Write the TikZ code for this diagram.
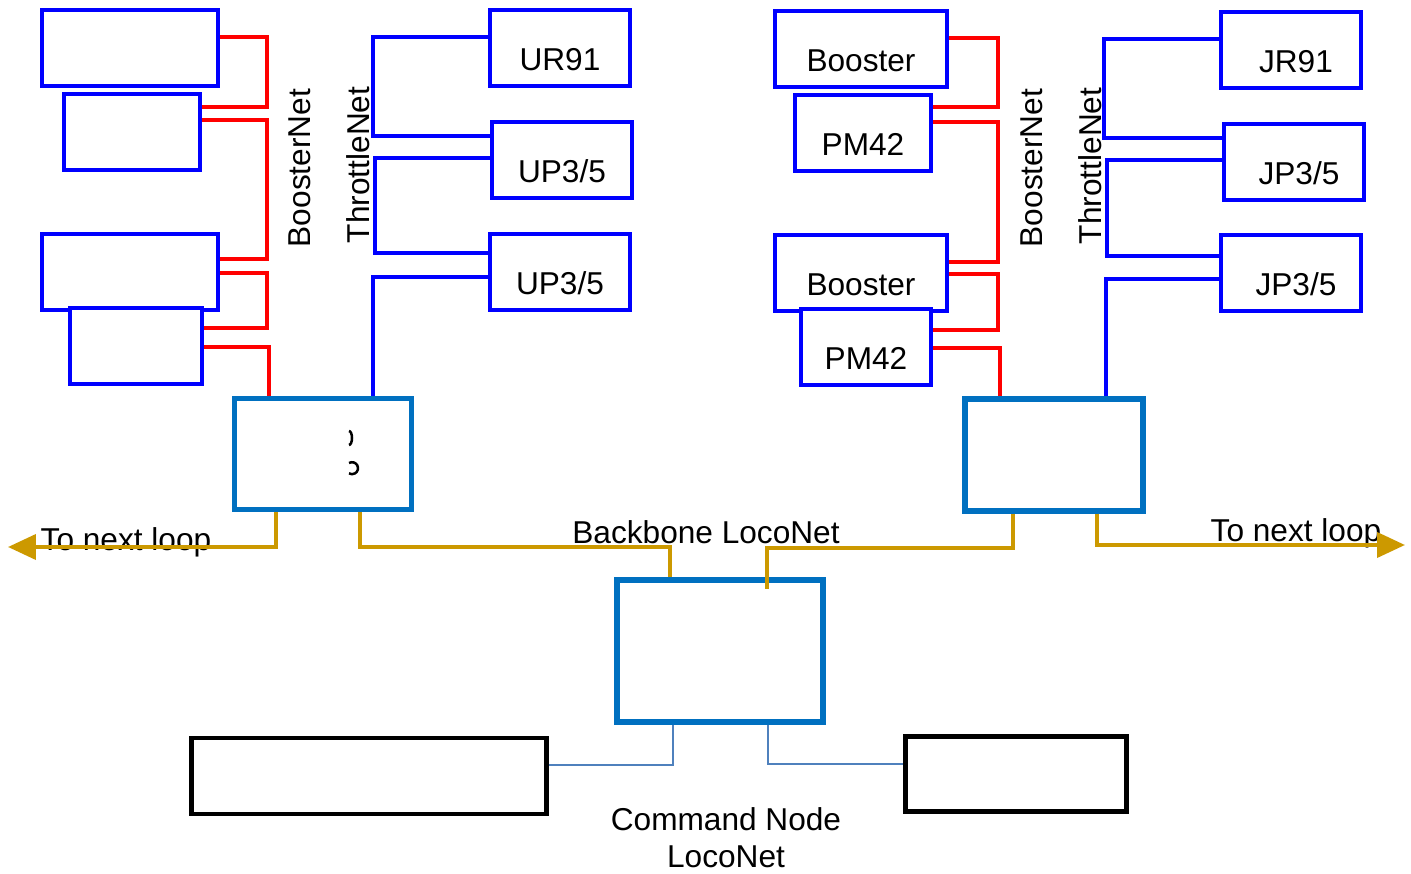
\documentclass[tikz,border=0pt]{standalone}
\usepackage{fontspec}
\setmainfont{Liberation Sans}
\usetikzlibrary{arrows.meta}

\definecolor{netblue}{RGB}{0,0,255}
\definecolor{hubblue}{RGB}{0,112,192}
\definecolor{locogold}{RGB}{204,153,0}
\definecolor{cmdblue}{RGB}{79,129,189}

\begin{document}
\begin{tikzpicture}[x=0.02cm,y=-0.02cm,
			>={Triangle[length=0.56cm,width=0.5cm]},
			every node/.style={
				font=\fontsize{18}{21}\selectfont
			},
			dev/.style={draw=netblue,line width=0.08cm,fill=white,inner sep=0pt,
				minimum height=1.52cm,text height=0.9cm,text depth=0cm},
			hub/.style={draw=hubblue,line width=0.11cm,fill=white,inner sep=0pt},
			cmd/.style={draw=black,line width=0.09cm,inner sep=0pt},
			bnet/.style={draw=red,line width=0.08cm},
			tnet/.style={draw=netblue,line width=0.08cm},
			loco/.style={draw=locogold,line width=0.08cm},
			cmdnet/.style={draw=cmdblue,line width=0.04cm}]
			
			\useasboundingbox (0,0) rectangle (1411,874);
			
			\node(lb1)[dev,minimum width=3.52cm] at (130,48){};
			
			\node(lp1)[dev,minimum width=2.72cm] at (132,132){};
			
			\node(lb2)[dev,minimum width=3.52cm] at (130,272){};
			
			\node(lp2)[dev,minimum width=2.64cm] at (136,346){};
			
			\node(ur91)[dev,minimum width=2.82cm] at (560,48){UR91};
			
			\node(up1)[dev,minimum width=2.82cm] at (562,160){UP3/5};
			
			\node(up2)[dev,minimum width=2.82cm] at (560,272){UP3/5};
			
			\node(rb1)[dev,minimum width=3.46cm] at (861,49){Booster};
			
			\node(rp1)[dev,minimum width=2.72cm] at (863,133){PM42};
			
			\node(rb2)[dev,minimum width=3.46cm] at (861,273){Booster};
			
			\node(rp2)[dev,minimum width=2.62cm] at (866,347){PM42};
			
			\node(jr91)[dev,minimum width=2.82cm] at (1291,50){\hspace{0.2cm}JR91};
			
			\node(jp1)[dev,minimum width=2.82cm] at (1294,162){\hspace{0.2cm}JP3/5};
			
			\node(jp2)[dev,minimum width=2.82cm] at (1291,273){\hspace{0.2cm}JP3/5};
			
			\node(lhub)[hub,minimum width=3.54cm,minimum height=2.22cm] at (323,454){};
			
			\node(rhub)[hub,minimum width=3.56cm,minimum height=2.24cm] at (1054,455){};
			
			\node(cmdhub)[hub,minimum width=4.12cm,minimum height=2.84cm] at (720,651){};
			
			\node(cs)[cmd,minimum width=7.1cm,minimum height=1.52cm] at (369,776){};
			
			\node(pc)[cmd,minimum width=4.42cm,minimum height=1.5cm] at (1016,774){};
			
			\node(bnl)[rotate=90] at (300,168){BoosterNet};
			
			\node(tnl)[rotate=90] at (358,165){ThrottleNet};
			
			\node(bnr)[rotate=90] at (1032,168){BoosterNet};
			
			\node(tnr)[rotate=90] at (1090,166){ThrottleNet};
			
			\node(bb) at (706,532){Backbone LocoNet};
			
			\node(nxl) at (126,542){To next loop};
			
			\node(nxr) at (1296,533){To next loop};
			
			\node(cmdl)[align=center] at (726,838){Command Node\\LocoNet};
			
			\coordinate(wend) at (8,547);
			
			\coordinate(eend) at (1405,545);
			
			\draw[line width=0.05cm](349,431) arc[start angle=90,end angle=-90,x radius=0.06cm,y radius=0.14cm];
			
			\draw[line width=0.05cm](349,463) arc[start angle=120,end angle=-120,radius=0.12cm];
			
			\draw[bnet](lb1.east |- 0,37) -| (267,107) -- (lp1.east |- 0,107);
			
			\draw[bnet](lp1.east |- 0,120) -| (267,259) -- (lb2.east |- 0,259);
			
			\draw[bnet](lb2.east |- 0,273) -| (267,328) -- (lp2.east |- 0,328);
			
			\draw[bnet](lp2.east |- 0,347) -| (269,0 |- lhub.north);
			
			\draw[tnet](ur91.west |- 0,37) -| (373,136) -- (up1.west |- 0,136);
			
			\draw[tnet](up1.west |- 0,158) -| (375,253) -- (up2.west |- 0,253);
			
			\draw[tnet](up2.west |- 0,277) -| (373,0 |- lhub.north);
			
			\draw[bnet](rb1.east |- 0,38) -| (998,107) -- (rp1.east |- 0,107);
			
			\draw[bnet](rp1.east |- 0,122) -| (998,262) -- (rb2.east |- 0,262);
			
			\draw[bnet](rb2.east |- 0,274) -| (998,330) -- (rp2.east |- 0,330);
			
			\draw[bnet](rp2.east |- 0,348) -| (1000,0 |- rhub.north);
			
			\draw[tnet](jr91.west |- 0,39) -| (1104,138) -- (jp1.west |- 0,138);
			
			\draw[tnet](jp1.west |- 0,160) -| (1107,256) -- (jp2.west |- 0,256);
			
			\draw[tnet](jp2.west |- 0,279) -| (1106,0 |- rhub.north);
			
			\draw[loco,->](276,0 |- lhub.south) |- (wend);
			
			\draw[loco](360,0 |- lhub.south) |- (670,547) -- (670,0 |- cmdhub.north);
			
			\draw[loco](1013,0 |- rhub.south) |- (767,548) -- ([yshift=-0.24cm]767,0 |- cmdhub.north);
			
			\draw[loco,->](1097,0 |- rhub.south) |- (eend);
			
			\draw[cmdnet](673,0 |- cmdhub.south) |- (cs.east |- 0,765);
			
			\draw[cmdnet](768,0 |- cmdhub.south) |- (pc.west |- 0,764);
			
		\end{tikzpicture}
\end{document}
